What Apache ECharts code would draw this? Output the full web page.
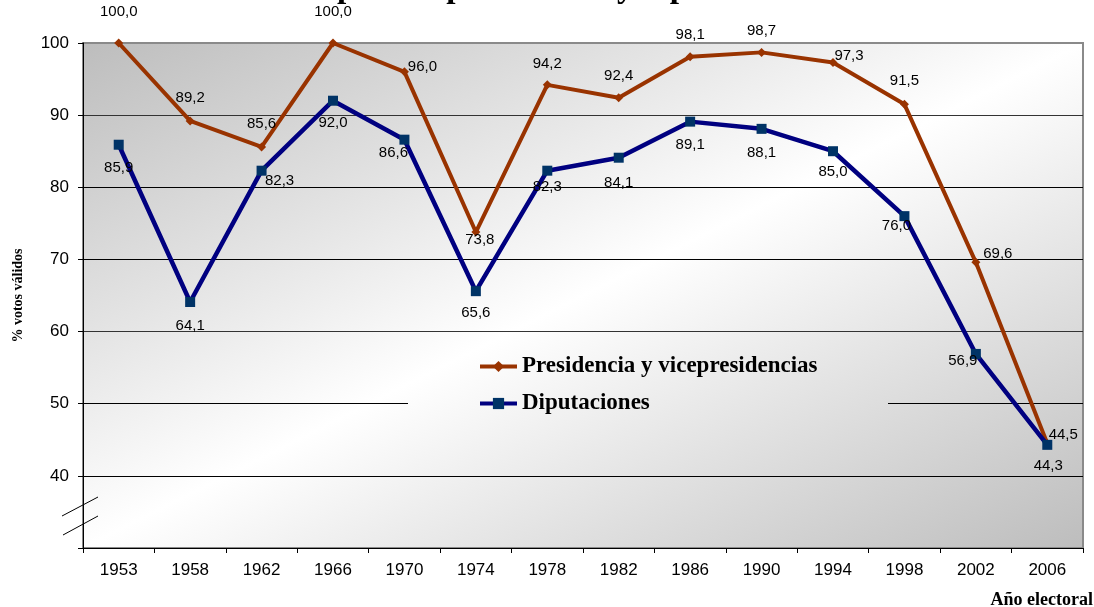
<!DOCTYPE html>
<html>
<head>
<meta charset="utf-8">
<script src="https://cdn.jsdelivr.net/npm/echarts@6/dist/echarts.min.js"></script>
<style>
html,body{margin:0;padding:0;background:#fff;}
#chart{width:1094px;height:607px;}
</style>
</head>
<body>
<div id="chart"></div>
<script>
// ---- data ----
const years = ['1953','1958','1962','1966','1970','1974','1978','1982','1986','1990','1994','1998','2002','2006'];
const presidencia = [100.0, 89.2, 85.6, 100.0, 96.0, 73.8, 94.2, 92.4, 98.1, 98.7, 97.3, 91.5, 69.6, 44.5];
const diputaciones = [85.9, 64.1, 82.3, 92.0, 86.6, 65.6, 82.3, 84.1, 89.1, 88.1, 85.0, 76.0, 56.9, 44.3];
const seriesNames = ['Presidencia y vicepresidencias', 'Diputaciones'];
const titleText = 'Resultados electorales para la presidencia y diputaciones';
const yAxisName = '% votos válidos';
const xAxisName = 'Año electoral';

// ---- label placement (style) ----
const presLabelOffsets = [[0,-31],[0,-23],[0,-23],[0,-31],[18,-5],[4,8],[0,-21],[0,-22],[0,-22],[0,-22],[16,-7],[0,-23],[22,-8],[16,-9]];
const dipLabelOffsets = [[0,23],[0,24],[18,10],[0,22],[-11,13],[0,22],[0,16],[0,25],[0,23],[0,24],[0,21],[-8,10],[-13,7],[1,21]];

function fmt(v){ return v.toFixed(1).replace('.', ','); }
function build(values, offsets){
  return values.map((v,i)=>({value:v, label:{offset:offsets[i]}}));
}

// title sizing via text measurement
const mctx = document.createElement('canvas').getContext('2d');
mctx.font = 'bold 28px "Liberation Serif"';
const wRef = mctx.measureText('para la presidencia ').width;
const titleSize = 28 * 280 / wRef;
mctx.font = 'bold ' + titleSize + 'px "Liberation Serif"';
const prefixW = mctx.measureText('Resultados electorales ').width;
const titleLeft = 337 - prefixW;

const gradStops = [{offset:0,color:'#bdbdbd'},{offset:0.5,color:'#ffffff'},{offset:1,color:'#bdbdbd'}];
const plotGradient = {type:'linear', global:true, x:379.8, y:-106.9, x2:786.2, y2:697.9, colorStops:gradStops};

const chart = echarts.init(document.getElementById('chart'), null, {renderer:'canvas'});
chart.setOption({
  animation:false,
  backgroundColor:'#ffffff',
  grid:{left:83, right:11, top:43, bottom:59, show:true, backgroundColor:plotGradient, borderColor:'#8a8a8a', borderWidth:2},
  legend:{
    orient:'vertical', left:408, top:345,
    padding:[10,68,10,70], itemGap:14, itemWidth:37, itemHeight:14,
    textStyle:{fontFamily:'Liberation Serif', fontWeight:'bold', fontSize:23, color:'#000'},
    lineStyle:{width:4},
    data:seriesNames
  },
  xAxis:{
    type:'category', data:years, boundaryGap:true,
    axisLine:{lineStyle:{color:'#000', width:1}},
    axisTick:{show:true, length:5, alignWithLabel:false, lineStyle:{color:'#000'}},
    axisLabel:{color:'#000', fontFamily:'Liberation Sans', fontSize:17, margin:14, interval:0},
    splitLine:{show:false}
  },
  yAxis:{
    type:'value', min:30, max:100, interval:10,
    name:yAxisName, nameLocation:'middle', nameGap:58, nameRotate:90,
    nameTextStyle:{fontFamily:'Liberation Serif', fontWeight:'bold', fontSize:14, color:'#000'},
    axisLine:{show:true, lineStyle:{color:'#000', width:1}},
    axisTick:{show:true, length:5, lineStyle:{color:'#000'}},
    axisLabel:{color:'#000', fontFamily:'Liberation Sans', fontSize:17, margin:14,
      formatter:function(v){ return v === 30 ? '' : String(v); }},
    splitLine:{show:true, lineStyle:{color:['#000','#000','#000','#333','#000','#000','#333','#8a8a8a'], width:1}}
  },
  graphic:[
    {type:'text', left:titleLeft, top:-Math.round(titleSize*0.92)+3, z:10,
      style:{text:titleText, fontFamily:'Liberation Serif', fontWeight:'bold', fontSize:titleSize, fill:'#000'}},
    {type:'text', right:1, top:591,
      style:{text:xAxisName, fontFamily:'Liberation Serif', fontWeight:'bold', fontSize:18, fill:'#000'}},
    {type:'rect', z:1, silent:true, shape:{x:408, y:392, width:480, height:22}, style:{fill:plotGradient}},
    {type:'line', z:10, shape:{x1:62, y1:516, x2:98, y2:497}, style:{stroke:'#000', lineWidth:1}},
    {type:'line', z:10, shape:{x1:63, y1:535, x2:98, y2:516}, style:{stroke:'#000', lineWidth:1}}
  ],
  series:[
    {
      name:seriesNames[0], type:'line', data:build(presidencia, presLabelOffsets),
      symbol:'diamond', symbolSize:9, showAllSymbol:true,
      lineStyle:{color:'#993300', width:4},
      itemStyle:{color:'#993300'},
      label:{show:true, position:'inside', align:'center', verticalAlign:'middle',
        fontFamily:'Liberation Sans', fontSize:15, color:'#000',
        formatter:function(p){ return fmt(p.value); }},
      z:3
    },
    {
      name:seriesNames[1], type:'line', data:build(diputaciones, dipLabelOffsets),
      symbol:'rect', symbolSize:10, showAllSymbol:true,
      lineStyle:{color:'#000080', width:4.5},
      itemStyle:{color:'#003366'},
      label:{show:true, position:'inside', align:'center', verticalAlign:'middle',
        fontFamily:'Liberation Sans', fontSize:15, color:'#000',
        formatter:function(p){ return fmt(p.value); }},
      z:4
    }
  ]
});
</script>
</body>
</html>
